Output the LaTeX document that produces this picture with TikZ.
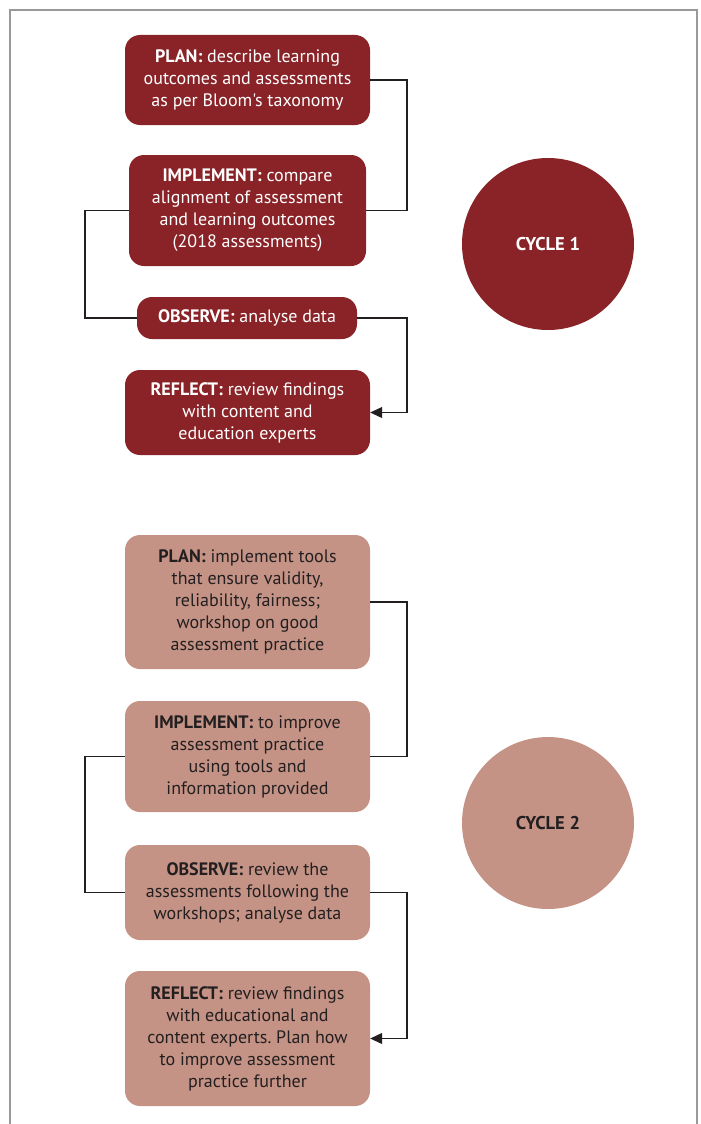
\documentclass[tikz,border=0pt]{standalone}
\usepackage{fontspec}
\setmainfont{PT Sans}[Ligatures=TeXOff]
\usetikzlibrary{arrows.meta,calc}
\definecolor{dkred}{HTML}{8A2327}
\definecolor{ltred}{HTML}{C49385}
\definecolor{dtext}{HTML}{231F20}
\frenchspacing
\begin{document}
\begin{tikzpicture}[x=1pt,y=-1pt,
  box/.style={rounded corners=15pt,inner sep=0pt,align=center,
    font=\fontsize{18}{22}\selectfont,minimum width=245pt},
  c1/.style={box,fill=dkred,text=white},
  c2/.style={box,fill=ltred,text=dtext},
  circ/.style={circle,minimum size=172pt,inner sep=0pt,font=\fontsize{18.5}{22}\selectfont\bfseries},
  conn/.style={line width=1.1pt,draw=dtext},
  arr/.style={conn,-{Triangle[length=12pt,width=11pt]}}]
\useasboundingbox (0,0) rectangle (701,1124);
\draw[line width=1.2pt,draw=gray!80] (10,1130) -- (10,10) -- (697,10) -- (697,1130);
\coordinate (xr) at (407,0);
\coordinate (xl) at (85,0);
% cycle 1
\node[c1,minimum height=90pt] (plan1) at (247.5,80) {\textbf{PLAN:} describe learning\\outcomes and assessments\\as per Bloom's taxonomy};
\node[c1,minimum height=111pt,minimum width=237pt] (impl1) at (247.5,210.5) {\textbf{IMPLEMENT:} compare\\alignment of assessment\\and learning outcomes\\(2018 assessments)};
\node[c1,minimum height=42pt,minimum width=220pt] (obs1) at (247,318) {\textbf{OBSERVE:} analyse data};
\node[c1,minimum height=85pt] (refl1) at (247.5,412.5) {\textbf{REFLECT:} review findings\\with content and\\education experts};
\node[circ,fill=dkred,text=white] (cy1) at (548,244) {CYCLE 1};
\draw[conn] (plan1.east) -- (plan1.east -| xr) |- (impl1.east);
\draw[conn] (impl1.west) -- (impl1.west -| xl) |- (obs1.west);
\draw[arr] (obs1.east) -- (obs1.east -| xr) |- (refl1.east);
% cycle 2
\node[c2,minimum height=134pt] (plan2) at (247.5,602) {\textbf{PLAN:} implement tools\\that ensure validity,\\reliability, fairness;\\workshop on good\\assessment practice};
\node[c2,minimum height=111pt] (impl2) at (247.5,756.5) {\textbf{IMPLEMENT:} to improve\\assessment practice\\using tools and\\information provided};
\node[c2,minimum height=95pt] (obs2) at (247.5,892.5) {\textbf{OBSERVE:} review the\\assessments following the\\workshops; analyse data};
\node[c2,minimum height=135pt] (refl2) at (247.5,1038.5) {\textbf{REFLECT:} review findings\\with educational and\\content experts. Plan how\\to improve assessment\\practice further};
\node[circ,fill=ltred,text=dtext] (cy2) at (548,823) {CYCLE 2};
\draw[conn] (plan2.east) -- (plan2.east -| xr) |- (impl2.east);
\draw[conn] (impl2.west) -- (impl2.west -| xl) |- (obs2.west);
\draw[arr] (obs2.east) -- (obs2.east -| xr) |- (refl2.east);
\end{tikzpicture}
\end{document}
